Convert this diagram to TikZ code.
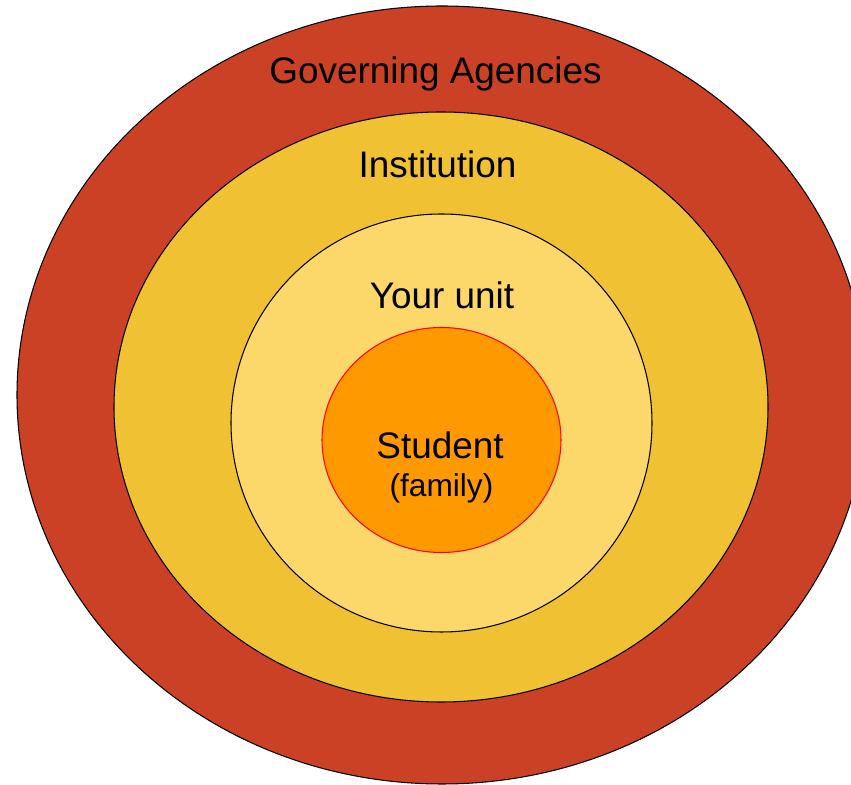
\documentclass[tikz,border=0pt]{standalone}
\usepackage{fontspec}
\setmainfont{Liberation Sans}
\usepackage{tikz}
\usepackage{xcolor}
\definecolor{govred}{HTML}{CB4125}
\definecolor{instyellow}{HTML}{F0C233}
\definecolor{unityellow}{HTML}{FCD769}
\definecolor{studorange}{HTML}{FF9900}

\begin{document}
\begin{tikzpicture}[ring/.style={draw=black,line width=.6pt},
  lbl/.style={anchor=base,inner sep=0pt,font=\fontsize{21}{25}\selectfont}]
  \useasboundingbox (0,0) rectangle (17.02,15.7);
  \draw[ring,fill=govred] (8.84,7.80) ellipse [x radius=8.5cm,y radius=7.78cm];
  \draw[ring,fill=instyellow] (8.82,7.56) ellipse [x radius=6.54cm,y radius=5.90cm];
  \draw[ring,fill=unityellow] (8.83,7.24) ellipse [x radius=4.21cm,y radius=4.18cm];
  \draw[line width=.6pt,draw=red,fill=studorange] (8.83,6.90)
    ellipse [x radius=2.39cm,y radius=2.25cm];

  \node (gov) [lbl] at (8.71,14.02) {Governing Agencies};
  \node (inst) [lbl] at (8.75,12.14) {Institution};
  \node (unit) [lbl] at (8.84,9.52) {Your unit};
  \node (stud) [lbl] at (8.80,6.52) {Student};
  \node (fam) [lbl,font=\fontsize{18}{22}\selectfont] at (8.83,5.76) {(family)};
\end{tikzpicture}
\end{document}
